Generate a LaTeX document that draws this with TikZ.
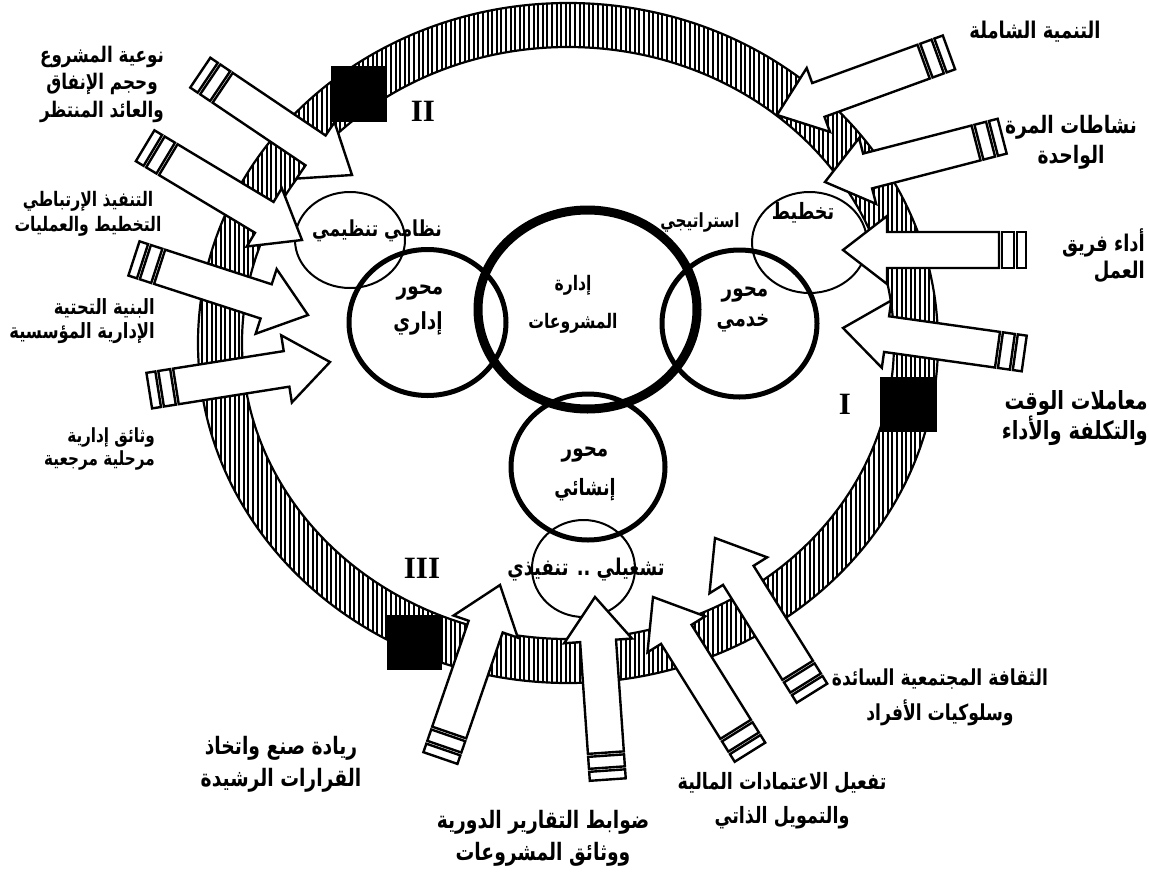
\documentclass[tikz,border=0pt]{standalone}
\usepackage{fontspec}
\setmainfont{Liberation Serif}
\newfontfamily\arabicfont[Script=Arabic, FakeStretch=0.78]{DejaVu Sans}
\TeXXeTstate=1
\usetikzlibrary{patterns.meta}
\newcommand{\rl}[1]{\beginR #1\endR}

\tikzset{
  arrowline/.style={line width=2.4pt, line join=miter, fill=white},
  pics/blockarrow/.style={code={
    \draw[arrowline] (0,0) -- (-44,34) -- (-44,18) -- (-156,18) -- (-156,-18)
                     -- (-44,-18) -- (-44,-34) -- cycle;
    \draw[arrowline] (-159,-18) rectangle (-171,18);
    \draw[arrowline] (-174,-18) rectangle (-183,18);
  }},
  lbl/.style 2 args={font=\arabicfont\bfseries\fontsize{#1}{#2}\selectfont, align=center, inner sep=0pt},
  inlbl/.style={font=\arabicfont\bfseries\fontsize{#1}{#1}\selectfont, inner sep=0pt},
  roman/.style={font=\bfseries\fontsize{31}{31}\selectfont, inner sep=0pt},
  axisring/.style={line width=5pt},
  thinring/.style={line width=2pt},
}

\begin{document}
\begin{tikzpicture}[x=1pt,y=-1pt]
\useasboundingbox (0,0) rectangle (1149,873);

% hatched outer band
\fill[pattern={Lines[angle=90,distance=4.6pt,line width=1.9pt]}, even odd rule]
  (568,343) ellipse [x radius=370, y radius=340]
  (568,343) ellipse [x radius=326, y radius=296];
\draw[line width=2.2pt] (568,343) ellipse [x radius=370, y radius=340];
\draw[line width=2.2pt] (568,343) ellipse [x radius=326, y radius=296];

% black markers on the band
\fill (331,66) rectangle (387,122);
\fill (880,377) rectangle (937,432);
\fill (387,615) rectangle (442,670);

% the four axes
\draw[line width=9pt] (587.5,309.5) ellipse [x radius=109.5, y radius=99.5];
\draw[axisring] (427.5,322.5) ellipse [x radius=78.5, y radius=73];
\draw[axisring] (739.5,323.5) ellipse [x radius=77.5, y radius=73.5];
\draw[axisring] (588,467) ellipse [x radius=77, y radius=73];

% the three levels
\draw[thinring] (350,240) ellipse [x radius=55, y radius=48];
\draw[thinring] (809.5,242.5) ellipse [x radius=57.5, y radius=50.5];
\draw[thinring] (583.5,568.5) ellipse [x radius=51.5, y radius=48.5];

% incoming block arrows
\pic[rotate=-31] at (302,240) {blockarrow};
\pic[rotate=-34] at (352,175) {blockarrow};
\pic[rotate=-18] at (308,315) {blockarrow};
\pic[rotate=9]   at (330,362) {blockarrow};
\pic[rotate=200] at (777,115) {blockarrow};
\pic[rotate=194.5] at (825,182) {blockarrow};
\pic[rotate=180] at (843,250) {blockarrow};
\pic[rotate=172] at (843,328) {blockarrow};
\pic[rotate=71]  at (500,585) {blockarrow};
\pic[rotate=94]  at (595,597) {blockarrow};
\pic[rotate=122] at (653,597) {blockarrow};
\pic[rotate=122] at (715,538) {blockarrow};

% roman numerals
\node[roman] (rII) at (423,111) {II};
\node[roman] (rI) at (845,404) {I};
\node[roman] (rIII) at (422,568) {III};

% texts inside the circles
\node[inlbl=20] (c0a) at (573,285) {\rl{إدارة}};
\node[inlbl=20] (c0b) at (573,323) {\rl{المشروعات}};
\node[inlbl=23.5] (c1a) at (420,293) {\rl{محور}};
\node[inlbl=23.5] (c1b) at (418,323) {\rl{إداري}};
\node[inlbl=23.5] (c2a) at (745,295) {\rl{محور}};
\node[inlbl=23] (c2b) at (743,323) {\rl{خدمي}};
\node[inlbl=23.5] (c3a) at (585,455) {\rl{محور}};
\node[inlbl=22.5] (c3b) at (585,490) {\rl{إنشائي}};
\node[inlbl=22] (lv1) at (377,231) {\rl{نظامي تنظيمي}};
\node[inlbl=19.5] (lv2a) at (700,222) {\rl{استراتيجي}};
\node[inlbl=22.5] (lv2b) at (803,213) {\rl{تخطيط}};
\node[inlbl=23] (lv3) at (586,570) {\rl{تشغيلي .. تنفيذي}};

% outer labels
\node[lbl={21.5}{27.5}] (t1) at (102,84) {\rl{نوعية المشروع}\\\rl{وحجم الإنفاق}\\\rl{والعائد المنتظر}};
\node[lbl={20}{25}] (t2) at (88,214) {\rl{التنفيذ الإرتباطي}\\\rl{التخطيط والعمليات}};
\node[lbl={21}{24}, align=right, anchor=east] (t3) at (155,321) {\rl{البنية التحتية}\\\rl{الإدارية المؤسسية}};
\node[lbl={19.5}{23.5}, align=right, anchor=east] (t4) at (155,449) {\rl{وثائق إدارية}\\\rl{مرحلية مرجعية}};
\node[lbl={23}{28}] (t5) at (1035,32) {\rl{التنمية الشاملة}};
\node[lbl={24}{30}] (t6) at (1071,142) {\rl{نشاطات المرة}\\\rl{الواحدة}};
\node[lbl={23}{27}, align=right, anchor=east] (t7) at (1145,256) {\rl{أداء فريق}\\\rl{العمل}};
\node[lbl={25}{26.5}, align=right, anchor=east] (t8) at (1148,418) {\rl{معاملات الوقت}\\\rl{والتكلفة والأداء}};
\node[lbl={22}{35}] (t9) at (940,697) {\rl{الثقافة المجتمعية السائدة}\\\rl{وسلوكيات الأفراد}};
\node[lbl={22.5}{34}] (t10) at (782,801) {\rl{تفعيل الاعتمادات المالية}\\\rl{والتمويل الذاتي}};
\node[lbl={24}{32}] (t11) at (543,838) {\rl{ضوابط التقارير الدورية}\\\rl{ووثائق المشروعات}};
\node[lbl={24}{32}] (t12) at (281,764) {\rl{ريادة صنع واتخاذ}\\\rl{القرارات الرشيدة}};
\end{tikzpicture}
\end{document}
